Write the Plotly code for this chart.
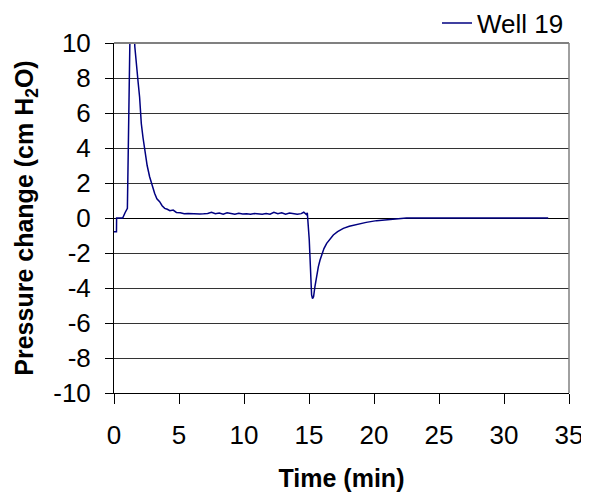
import plotly.graph_objects as go

# Well 19 pressure record
time_min = [0.0, 0.19, 0.2, 0.45, 0.67, 0.85, 1.03, 1.1, 1.18, 1.25, 1.4, 1.55, 1.6,
            1.72, 1.85, 1.97, 2.1, 2.23, 2.36, 2.55, 2.74, 2.95, 3.13, 3.3, 3.51,
            3.7, 3.9, 4.1, 4.3, 4.55, 4.8, 5.1, 5.4, 5.7, 6.0, 6.3, 6.6, 6.9,
            7.2, 7.5, 7.8, 8.1, 8.4, 8.7, 9.0, 9.3, 9.6, 9.9, 10.2, 10.5, 10.8,
            11.1, 11.4, 11.7, 12.0, 12.3, 12.6, 12.9, 13.2, 13.5, 13.8, 14.1,
            14.4, 14.6, 14.8, 14.87, 15.02, 15.13, 15.2, 15.27, 15.35, 15.46,
            15.6, 15.72, 15.85, 15.98, 16.15, 16.36, 16.6, 16.87, 17.2, 17.64,
            18.1, 18.67, 19.4, 20.2, 20.8, 21.5, 22.5, 25.0, 28.0, 31.0, 33.4]
pressure = [-0.78, -0.78, 0.0, 0.0, 0.0, 0.3, 0.55, 4.0, 9.0, 11.5, 12.5, 11.0, 9.8,
            8.65, 7.8, 6.9, 5.4, 4.6, 3.9, 3.0, 2.36, 1.8, 1.4, 1.1, 0.93,
            0.7, 0.55, 0.5, 0.42, 0.45, 0.32, 0.3, 0.25, 0.26, 0.24, 0.25, 0.23, 0.24,
            0.26, 0.33, 0.24, 0.28, 0.22, 0.3, 0.25, 0.21, 0.27, 0.23, 0.24, 0.22, 0.26,
            0.24, 0.21, 0.25, 0.22, 0.32, 0.24, 0.3, 0.22, 0.28, 0.24, 0.22,
            0.25, 0.33, 0.2, 0.3, -1.26, -3.35, -4.4, -4.6, -4.5, -3.9,
            -3.2, -2.78, -2.4, -2.11, -1.75, -1.45, -1.2, -0.97, -0.78, -0.59,
            -0.47, -0.36, -0.25, -0.15, -0.1, -0.08, 0.0, 0.0, 0.0, 0.0, 0.0]

x_ticks = [0, 5, 10, 15, 20, 25, 30, 35]
y_ticks = [-10, -8, -6, -4, -2, 0, 2, 4, 6, 8, 10]
y_labels = ["-10", "-8", "-6", "-4", "-2", "0", "2", "4", "6", "8", "10"]

font = "Liberation Sans, Arial, sans-serif"

fig = go.Figure()
fig.add_trace(go.Scatter(x=time_min, y=pressure, mode="lines", name="Well 19",
                         line=dict(color="#000080", width=1.5)))

# page body adds ~8px offset, so figure is a bit smaller than the window
fig.update_layout(
    width=581, height=492,
    margin=dict(l=106, r=20, t=35, b=107, autoexpand=False),
    paper_bgcolor="white", plot_bgcolor="white",
    font=dict(family=font, size=26, color="black"),
    showlegend=True,
    legend=dict(x=1.0, xanchor="right", y=1.057, yanchor="middle",
                bgcolor="rgba(0,0,0,0)", font=dict(size=26), itemwidth=30),
    xaxis=dict(range=[0, 35], tickvals=x_ticks, ticks="outside", ticklen=10,
               tickcolor="black", showline=True, linecolor="black", linewidth=1,
               showgrid=False, zeroline=False, ticklabelstandoff=9, automargin=False,
               title=dict(text="<b>Time (min)</b>", font=dict(size=25), standoff=20)),
    yaxis=dict(range=[-10, 10], tickvals=y_ticks, ticktext=y_labels,
               ticks="outside", ticklen=8,
               tickcolor="black", showline=True, linecolor="black", linewidth=1,
               showgrid=True, gridcolor="#333333", gridwidth=1,
               zeroline=True, zerolinecolor="black", zerolinewidth=1,
               ticklabelstandoff=9, automargin=False,
               title=dict(text="<b>Pressure change (cm H<sub>2</sub>O)</b>",
                          font=dict(size=25), standoff=12)),
    shapes=[dict(type="line", xref="paper", yref="paper", x0=0, x1=1, y0=1, y1=1,
                 line=dict(color="#808080", width=2)),
            dict(type="line", xref="paper", yref="paper", x0=1, x1=1, y0=0, y1=1,
                 line=dict(color="#808080", width=1.5))],
)

fig.write_html("out.html")
